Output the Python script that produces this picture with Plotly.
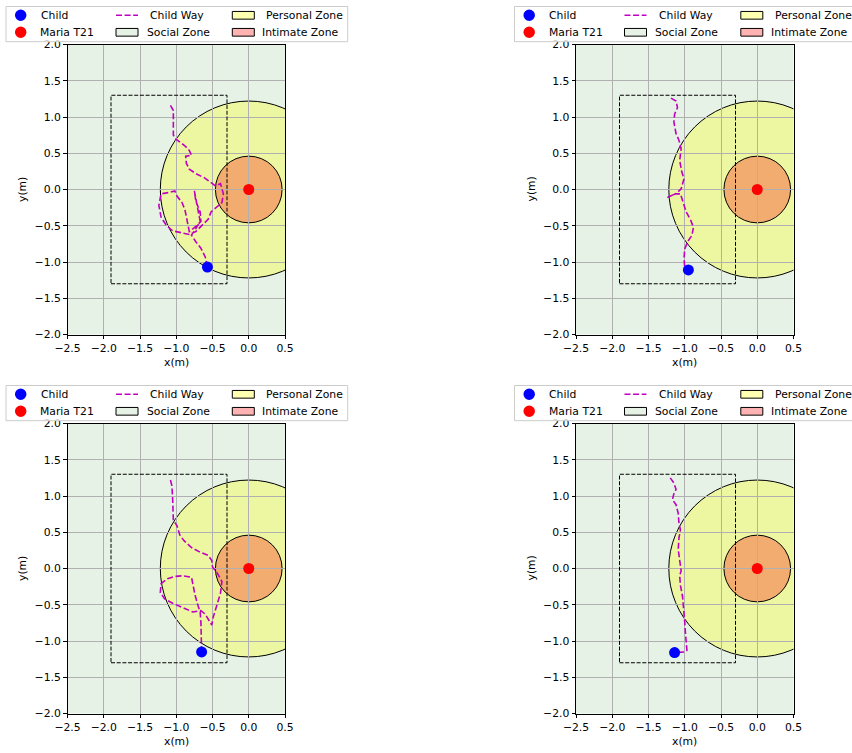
import plotly.graph_objects as go

W, H = 852, 753
FONT = "DejaVu Sans"
FS = 10.8

# Proxemic zones around the robot (radius in metres)
zone_names = ["Social Zone", "Personal Zone", "Intimate Zone"]
zone_radii = [3.66, 1.22, 0.46]
zone_fills = ["rgba(0,128,0,0.1)", "rgba(255,255,0,0.3)", "rgba(255,0,0,0.3)"]

robot_label = "Maria T21"
robot_x = [0.0]
robot_y = [0.0]

# Dashed observation area
area_x = [-1.9, -0.3]
area_y = [-1.3, 1.3]

x_range = [-2.5, 0.5]
y_range = [-2.0, 2.0]

# Child trajectories; the last sample is the child's current position
way_a_x = [-1.08, -1.04, -1.04, -1.04, -1.00, -0.89, -0.82, -0.79, -0.87, -0.86,
           -0.82, -0.73, -0.61, -0.52, -0.46, -0.39, -0.35, -0.37, -0.45, -0.52,
           -0.56, -0.64, -0.73, -0.82, -0.93, -1.05, -1.14, -1.21, -1.24, -1.21,
           -1.09, -1.02, -0.99, -0.92, -0.88, -0.85, -0.82, -0.73, -0.66, -0.67,
           -0.73, -0.75, -0.70, -0.67, -0.73, -0.79, -0.73, -0.66, -0.60, -0.57]
way_a_y = [1.16, 1.09, 0.91, 0.75, 0.69, 0.61, 0.54, 0.47, 0.46, 0.36,
           0.28, 0.22, 0.16, 0.10, 0.05, 0.08, -0.06, -0.18, -0.25, -0.31,
           -0.41, -0.49, -0.58, -0.62, -0.60, -0.57, -0.49, -0.38, -0.22, -0.06,
           -0.04, -0.02, -0.09, -0.18, -0.28, -0.42, -0.58, -0.51, -0.44, -0.31,
           -0.16, -0.02, -0.26, -0.44, -0.54, -0.63, -0.72, -0.81, -0.93, -1.07]

way_b_x = [-1.19, -1.12, -1.10, -1.14, -1.15, -1.12, -1.08, -1.05, -1.07, -1.04,
           -1.01, -1.05, -1.11, -1.24, -1.13, -1.06, -1.02, -0.98, -0.92, -0.88,
           -0.90, -0.96, -1.00, -1.01, -1.00, -0.95]
way_b_y = [1.26, 1.22, 1.13, 1.04, 0.93, 0.77, 0.68, 0.56, 0.40, 0.24,
           0.15, 0.01, -0.05, -0.11, -0.06, -0.06, -0.19, -0.31, -0.42, -0.52,
           -0.63, -0.72, -0.82, -0.95, -1.08, -1.11]

way_c_x = [-1.08, -1.06, -1.05, -1.04, -1.04, -0.99, -0.95, -0.89, -0.79, -0.68,
           -0.56, -0.51, -0.50, -0.43, -0.37, -0.39, -0.44, -0.49, -0.51, -0.55,
           -0.60, -0.66, -0.77, -0.91, -1.05, -1.16, -1.22, -1.21, -1.12, -1.02,
           -0.91, -0.79, -0.77, -0.74, -0.70, -0.67, -0.66, -0.66, -0.65, -0.65]
way_c_y = [1.22, 1.14, 0.97, 0.79, 0.67, 0.59, 0.46, 0.38, 0.29, 0.23,
           0.18, 0.11, 0.02, -0.07, -0.18, -0.34, -0.51, -0.67, -0.78, -0.71,
           -0.63, -0.58, -0.60, -0.54, -0.48, -0.42, -0.33, -0.21, -0.14, -0.11,
           -0.10, -0.12, -0.23, -0.37, -0.51, -0.60, -0.74, -0.90, -1.06, -1.15]

way_d_x = [-1.20, -1.15, -1.12, -1.15, -1.17, -1.12, -1.09, -1.08, -1.06, -1.08,
           -1.09, -1.07, -1.05, -1.07, -1.06, -1.03, -1.01, -1.00, -0.99, -0.98,
           -0.97, -1.00, -1.14]
way_d_y = [1.25, 1.18, 1.09, 1.03, 0.95, 0.88, 0.76, 0.63, 0.53, 0.42,
           0.26, 0.07, -0.03, -0.10, -0.23, -0.39, -0.57, -0.74, -0.90, -1.04,
           -1.13, -1.15, -1.16]

ways = [(way_a_x, way_a_y), (way_b_x, way_b_y), (way_c_x, way_c_y), (way_d_x, way_d_y)]

# Panel frames in page pixels: left, right, top, bottom
panel_px = [(67.5, 285.0, 44.5, 334.5), (576.0, 793.5, 44.5, 334.5),
            (67.5, 285.0, 423.5, 713.5), (576.0, 793.5, 423.5, 713.5)]

WAY_COLOR = "#bf00bf"


def fx(p):
    return p / W


def fy(p):
    return 1 - p / H


fig = go.Figure()
shapes = []
annotations = []
layout_axes = {}
text_font = dict(family=FONT, size=FS, color="black")

for i, ((wx, wy), (l, r, t, b)) in enumerate(zip(ways, panel_px)):
    n = "" if i == 0 else str(i + 1)
    xa, ya = "x" + n, "y" + n

    # proxemic zones, drawn beneath the grid
    for rad, fill in zip(zone_radii, zone_fills):
        shapes.append(dict(type="circle", xref=xa, yref=ya, layer="below",
                           x0=-rad, x1=rad, y0=-rad, y1=rad,
                           fillcolor=fill, line=dict(color="black", width=1)))
    shapes.append(dict(type="rect", xref=xa, yref=ya, layer="above",
                       x0=area_x[0], x1=area_x[1], y0=area_y[0], y1=area_y[1],
                       line=dict(color="black", width=1, dash="4px,1.7px")))

    fig.add_trace(go.Scatter(x=wx, y=wy, mode="lines", name="Child Way",
                             line=dict(color=WAY_COLOR, width=1.6, dash="6px,2.6px"),
                             xaxis=xa, yaxis=ya, showlegend=False))
    fig.add_trace(go.Scatter(x=robot_x, y=robot_y, mode="markers", name=robot_label,
                             marker=dict(color="red", size=11, line=dict(width=0)),
                             xaxis=xa, yaxis=ya, showlegend=False))
    fig.add_trace(go.Scatter(x=wx[-1:], y=wy[-1:], mode="markers", name="Child",
                             marker=dict(color="blue", size=11, line=dict(width=0)),
                             xaxis=xa, yaxis=ya, showlegend=False))

    axis_common = dict(showline=True, linecolor="black", linewidth=1, mirror=True,
                       ticks="outside", ticklen=3.5, tickwidth=1, tickcolor="black",
                       showgrid=True, gridcolor="#b0b0b0", gridwidth=1,
                       zeroline=False, dtick=0.5, tick0=0, tickformat=".1f",
                       tickfont=text_font, automargin=False, fixedrange=True)
    layout_axes["xaxis" + n] = dict(axis_common, domain=[l / W, r / W], range=x_range,
                                    anchor=ya)
    layout_axes["yaxis" + n] = dict(axis_common, domain=[1 - b / H, 1 - t / H], range=y_range,
                                    anchor=xa)

    # axis titles
    annotations.append(dict(xref="paper", yref="paper", x=fx((l + r) / 2), y=fy(b + 28.0),
                            xanchor="center", yanchor="middle", showarrow=False,
                            text="x(m)", font=text_font, borderpad=0, borderwidth=0))
    annotations.append(dict(xref="paper", yref="paper", x=fx(l - 45.0), y=fy((t + b) / 2),
                            xanchor="center", yanchor="middle", showarrow=False,
                            text="y(m)", textangle=-90, font=text_font,
                            borderpad=0, borderwidth=0))

    # legend panel above each frame
    bx, by = l - 61.5, t - 38.0
    shapes.append(dict(type="rect", xref="paper", yref="paper", layer="above",
                       x0=fx(bx), x1=fx(bx + 341.7), y0=fy(by), y1=fy(by + 35.2),
                       fillcolor="rgba(255,255,255,0.8)", line=dict(color="#cccccc", width=1)))
    row1, row2 = by + 8.8, by + 25.8
    for cy, col in ((row1, "blue"), (row2, "red")):
        shapes.append(dict(type="circle", xref="paper", yref="paper", layer="above",
                           xsizemode="pixel", ysizemode="pixel",
                           xanchor=fx(bx + 14.7), yanchor=fy(cy),
                           x0=-5.75, x1=5.75, y0=-5.75, y1=5.75,
                           fillcolor=col, line=dict(width=0)))
    shapes.append(dict(type="line", xref="paper", yref="paper", layer="above",
                       x0=fx(bx + 110), x1=fx(bx + 132), y0=fy(row1), y1=fy(row1),
                       line=dict(color=WAY_COLOR, width=1.6, dash="6px,2.6px")))
    for px0, cy, fill in ((bx + 110, row2, zone_fills[0]), (bx + 226.3, row1, zone_fills[1]),
                          (bx + 226.3, row2, zone_fills[2])):
        shapes.append(dict(type="rect", xref="paper", yref="paper", layer="above",
                           x0=fx(px0), x1=fx(px0 + 22), y0=fy(cy - 3.85), y1=fy(cy + 3.85),
                           fillcolor=fill, line=dict(color="black", width=1)))
    for tx, cy, label in ((bx + 34.7, row1, "Child"), (bx + 34.0, row2, robot_label),
                          (bx + 144.0, row1, "Child Way"), (bx + 140.7, row2, zone_names[0]),
                          (bx + 260.0, row1, zone_names[1]), (bx + 256.3, row2, zone_names[2])):
        annotations.append(dict(xref="paper", yref="paper", x=fx(tx), y=fy(cy),
                                xanchor="left", yanchor="middle", showarrow=False,
                                text=label, borderpad=0, borderwidth=0, font=text_font))

fig.update_layout(width=W, height=H, margin=dict(l=0, r=0, t=0, b=0),
                  template="none", paper_bgcolor="white", plot_bgcolor="white",
                  showlegend=False, shapes=shapes, annotations=annotations,
                  font=text_font, **layout_axes)

fig.write_html("out.html")
